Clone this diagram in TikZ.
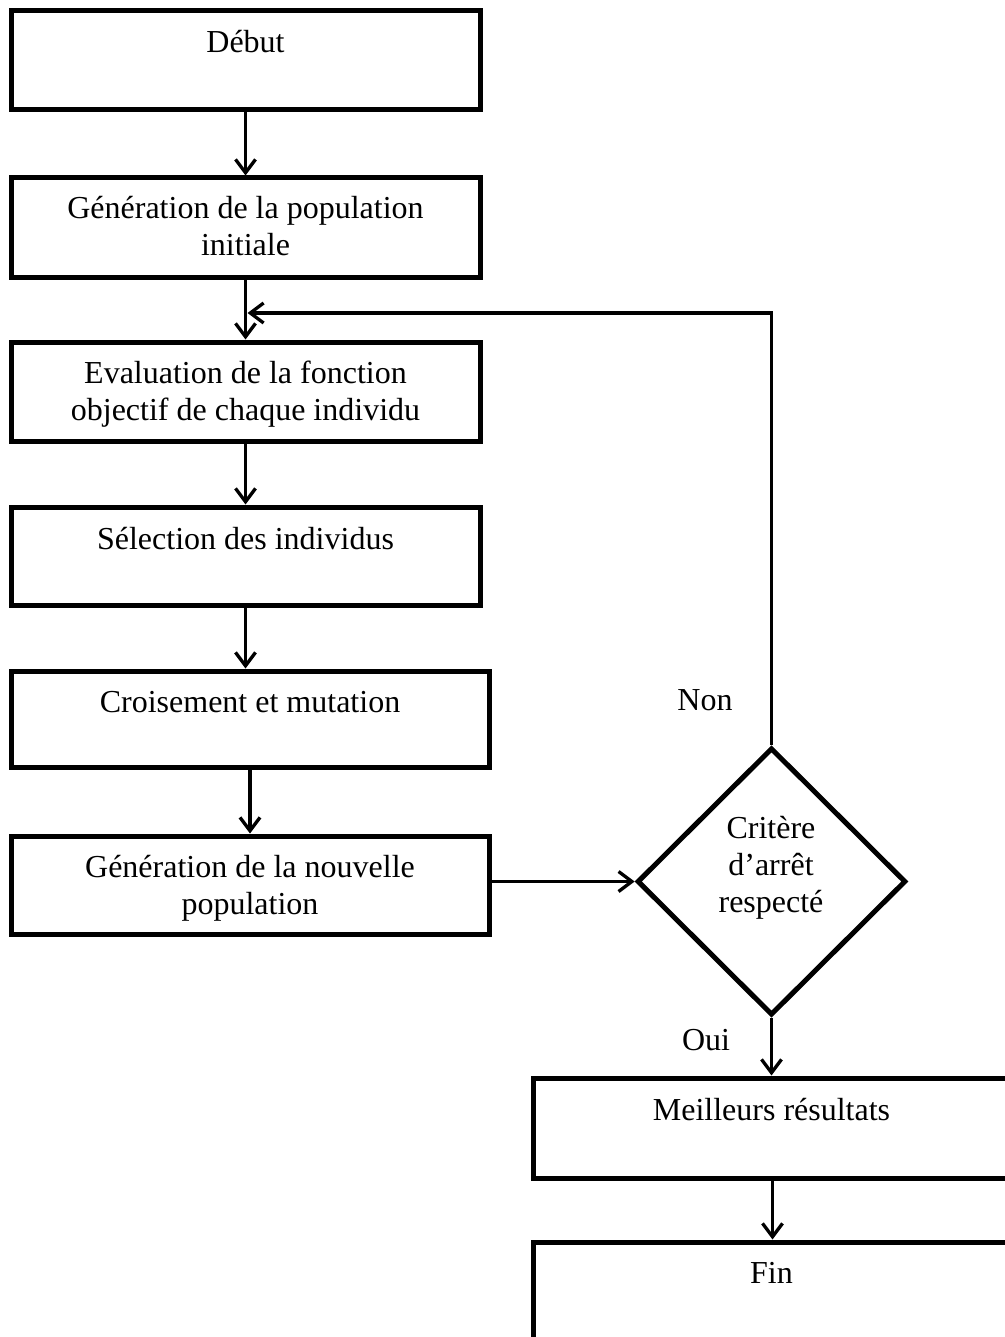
\documentclass[tikz,border=0pt]{standalone}
\usepackage{fontspec}
\setmainfont{Liberation Serif}
\usetikzlibrary{arrows.meta,shapes.geometric,fit}
\tikzset{
  box/.style={draw, line width=3.75pt, inner sep=0pt, rectangle},
  dia/.style={draw, line width=3.75pt, diamond, aspect=1, inner sep=0pt,
              minimum width=201.5pt, minimum height=200.5pt},
  txt/.style={anchor=base, align=center, inner sep=0pt,
              font=\fontsize{24pt}{27.75pt}\selectfont},
  arr/.style={line width=2.5pt,
              -{Straight Barb[length=10pt,width=15pt]}}
}
\begin{document}
\begin{tikzpicture}[x=0.75pt,y=-0.75pt]
\useasboundingbox (0,0) rectangle (1005,1337);
\clip (0,0) rectangle (1005,1337);
% boxes
\node[box, fit={(11,10.5) (480,110)}] (b1) {};
\node[box, fit={(11,178) (480,278)}] (b2) {};
\node[box, fit={(11,342) (480,441)}] (b3) {};
\node[box, fit={(11,507) (480,605)}] (b4) {};
\node[box, fit={(11,671) (489,767)}] (b5) {};
\node[box, fit={(11,836) (489,934)}] (b6) {};
\node[dia] (d) at (771.5,881.5) {};
\node[box, fit={(533,1078) (1012,1178)}] (b7) {};
\node[box, fit={(533,1242) (1012,1350)}] (b8) {};
% texts (base anchor = baseline of last line)
\node[txt] (t1) at (245.5,52.5) {Début};
\node[txt] (t2) at (245.5,256) {Génération de la population\\initiale};
\node[txt] (t3) at (245.5,420) {Evaluation de la fonction\\objectif de chaque individu};
\node[txt] (t4) at (245.5,549) {Sélection des individus};
\node[txt] (t5) at (250,712) {Croisement et mutation};
\node[txt] (t6) at (250,914) {Génération de la nouvelle\\population};
\node[txt] (td) at (771,912) {Critère\\d’arrêt\\respecté};
\node[txt] (t7) at (771.5,1120) {Meilleurs résultats};
\node[txt] (t8) at (771.5,1283) {Fin};
\node[txt] (non) at (705,710) {Non};
\node[txt] (oui) at (706,1050) {Oui};
% connectors
\draw[arr] (b1.south) -- (b1.south |- b2.north);
\draw[arr] (b2.south) -- (b2.south |- b3.north);
\draw[arr] (b3.south) -- (b3.south |- b4.north);
\draw[arr] (b4.south) -- (b4.south |- b5.north);
\draw[arr] (b5.south) -- (b5.south |- b6.north);
\draw[arr] (b6.east |- d.west) -- (d.west);
\draw[arr] (d.south) -- (d.south |- b7.north);
\draw[arr] (b7.south) -- (b7.south |- b8.north);
\coordinate (j) at (247.5,313);
\draw[arr] (d.north) |- (j);
\end{tikzpicture}
\end{document}
